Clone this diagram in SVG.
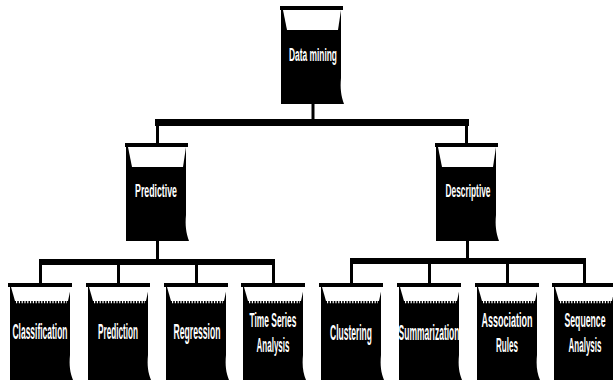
<svg xmlns="http://www.w3.org/2000/svg" width="613" height="382" viewBox="0 0 613 382">
<style>
.t{fill:#fff;font-family:"Liberation Sans",Arial,sans-serif;font-weight:bold;text-anchor:middle}
.big{font-size:18px}
.sm{font-size:22px}
.sm2{font-size:20px}
.c{fill:#000}
.v{stroke:#000;stroke-width:3;fill:none}
</style>
<defs>
<g id="bigNode">
<path d="M0,0H63V4H0Z" fill="#000"/>
<path d="M1,4H61V72C60,82 61,90 64,98H1Z" fill="#000"/>
<path d="M3,4H61L58,24H7Z" fill="#fff"/>
</g>
<g id="leafNode">
<path d="M0,0H64V4H0Z" fill="#000"/>
<path d="M2,4H62V72C61,82 62,90 65,97H2Z" fill="#000"/>
<path d="M3,4H63L60,18H7Z" fill="#fff"/>
<path d="M8,19H59" stroke="#fff" stroke-width="2.5" stroke-dasharray="1.2 1.6"/>
</g>
</defs>
<rect width="613" height="382" fill="#fff"/>
<g id="connectors">
<path class="v" d="M313,102V121"/>
<rect class="c" x="155" y="119" width="314" height="7"/>
<path class="v" d="M157.5,125V143M466.5,125V143"/>
<path class="v" d="M157.5,240V260M467.5,240V259"/>
<rect class="c" x="39" y="259" width="236" height="6"/>
<rect class="c" x="350" y="258" width="236" height="6"/>
<path class="v" d="M40.5,264V283M118.5,264V283M196.5,264V283M273.5,264V283"/>
<path class="v" d="M351.5,263V283M429.5,263V283M507.5,263V283M584.5,263V283"/>
</g>
<g id="n-datamining">
<use href="#bigNode" x="280" y="6"/>
<text class="t big" transform="translate(313,61) scale(0.466,1)">Data mining</text>
</g>
<g id="n-predictive">
<use href="#bigNode" x="125" y="143"/>
<text class="t big" transform="translate(156,197) scale(0.488,1)">Predictive</text>
</g>
<g id="n-descriptive">
<use href="#bigNode" x="435" y="143"/>
<text class="t big" transform="translate(468,197) scale(0.464,1)">Descriptive</text>
</g>
<g id="n-classification">
<use href="#leafNode" x="8" y="283"/>
<text class="t sm" transform="translate(40,339) scale(0.385,1)">Classification</text>
</g>
<g id="n-prediction">
<use href="#leafNode" x="86" y="283"/>
<text class="t sm" transform="translate(118,339) scale(0.372,1)">Prediction</text>
</g>
<g id="n-regression">
<use href="#leafNode" x="164" y="283"/>
<text class="t sm" transform="translate(197,339) scale(0.392,1)">Regression</text>
</g>
<g id="n-timeseries">
<use href="#leafNode" x="241" y="283"/>
<text class="t sm2" transform="translate(273,327) scale(0.419,1)">Time Series</text>
<text class="t sm2" transform="translate(273,352) scale(0.401,1)">Analysis</text>
</g>
<g id="n-clustering">
<use href="#leafNode" x="319" y="283"/>
<text class="t sm" transform="translate(351,340) scale(0.386,1)">Clustering</text>
</g>
<g id="n-summarization">
<use href="#leafNode" x="397" y="283"/>
<text class="t sm" transform="translate(429,340) scale(0.387,1)">Summarization</text>
</g>
<g id="n-associationrules">
<use href="#leafNode" x="475" y="283"/>
<text class="t sm2" transform="translate(507,327) scale(0.45,1)">Association</text>
<text class="t sm2" transform="translate(507,352) scale(0.404,1)">Rules</text>
</g>
<g id="n-sequenceanalysis">
<use href="#leafNode" x="552" y="283"/>
<text class="t sm2" transform="translate(585,327) scale(0.434,1)">Sequence</text>
<text class="t sm2" transform="translate(585,352) scale(0.401,1)">Analysis</text>
</g>
</svg>
